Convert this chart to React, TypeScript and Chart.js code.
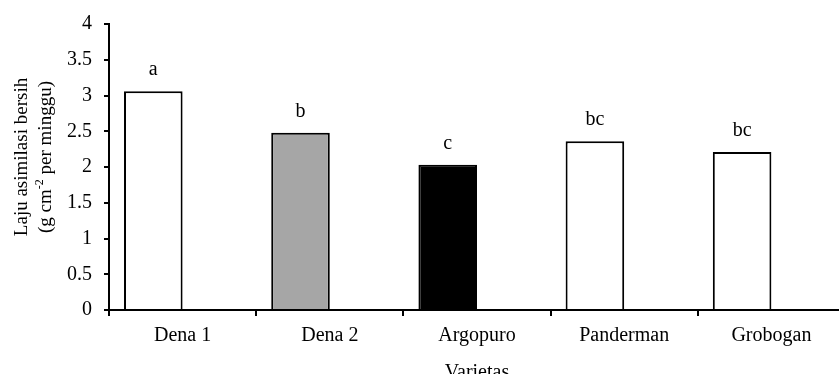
import React, { useEffect, useRef } from "react";
import { Chart, registerables } from "chart.js";

Chart.register(...registerables);

const categories = ["Dena 1", "Dena 2", "Argopuro", "Panderman", "Grobogan"];
const values = [3.06, 2.48, 2.03, 2.36, 2.21];
const spacer = [null, null, null, null, null];
const letters = ["a", "b", "c", "bc", "bc"];
const fills = ["#ffffff", "#a6a6a6", "#000000", "#ffffff", "#ffffff"];
const yMin = 0;
const yMax = 4;
const yStep = 0.5;
const yTitleLine1 = "Laju asimilasi bersih";
const yTitleLine2 = ["(g cm", "-2", " per minggu)"];
const xTitle = "Varietas";

const FONT = "'Liberation Serif', 'Times New Roman', Times, serif";
const W = 846;
const H = 390;

const annotPlugin = {
  id: "annot",
  afterDatasetsDraw(chart: any) {
    const ctx = chart.ctx;
    const meta = chart.getDatasetMeta(0);
    ctx.save();
    ctx.font = `20px ${FONT}`;
    ctx.fillStyle = "#000";
    ctx.textAlign = "center";
    ctx.textBaseline = "alphabetic";
    meta.data.forEach((el: any, i: number) => {
      ctx.fillText(letters[i], el.x, el.y - 16);
    });
    ctx.restore();
  },
  afterDraw(chart: any) {
    const ctx = chart.ctx;
    const area = chart.chartArea;
    const cy = area.top + (area.bottom - area.top) * 0.465;
    ctx.save();
    ctx.fillStyle = "#000";
    ctx.textBaseline = "middle";
    ctx.save();
    ctx.translate(22, cy);
    ctx.rotate(-Math.PI / 2);
    ctx.font = `19px ${FONT}`;
    ctx.textAlign = "center";
    ctx.fillText(yTitleLine1, 0, 0);
    ctx.restore();
    ctx.save();
    ctx.translate(46, cy);
    ctx.rotate(-Math.PI / 2);
    const mainFont = `19px ${FONT}`;
    const supFont = `12px ${FONT}`;
    ctx.font = mainFont;
    const w0 = ctx.measureText(yTitleLine2[0]).width;
    const w2 = ctx.measureText(yTitleLine2[2]).width;
    ctx.font = supFont;
    const w1 = ctx.measureText(yTitleLine2[1]).width;
    const total = w0 + w1 + w2;
    let x = -total / 2;
    ctx.textAlign = "left";
    ctx.font = mainFont;
    ctx.fillText(yTitleLine2[0], x, 0);
    x += w0;
    ctx.font = supFont;
    ctx.fillText(yTitleLine2[1], x, -6);
    x += w1;
    ctx.font = mainFont;
    ctx.fillText(yTitleLine2[2], x, 0);
    ctx.restore();
    ctx.restore();
  },
};

export default function App() {
  const ref = useRef<HTMLCanvasElement | null>(null);

  useEffect(() => {
    document.body.style.margin = "0";
    const canvas = ref.current;
    if (!canvas) return;
    const chart = new Chart(canvas, {
      type: "bar",
      data: {
        labels: categories,
        datasets: [
          {
            data: values,
            backgroundColor: fills,
            borderColor: "#000000",
            borderWidth: 2,
          },
          {
            data: spacer as any,
            backgroundColor: "#ffffff",
          },
        ],
      },
      options: {
        responsive: false,
        animation: false,
        devicePixelRatio: 1,
        layout: { padding: { left: 0, top: 22, right: 1, bottom: 0 } },
        datasets: {
          bar: { categoryPercentage: 0.796, barPercentage: 1 },
        } as any,
        plugins: {
          legend: { display: false },
          tooltip: { enabled: false },
          title: { display: false },
        },
        scales: {
          x: {
            type: "category",
            offset: true,
            grid: {
              offset: true,
              drawOnChartArea: false,
              drawTicks: true,
              tickLength: 6,
              color: "#000000",
              lineWidth: 2,
            },
            border: { color: "#000000", width: 2 },
            ticks: {
              color: "#000000",
              font: { family: FONT, size: 20 },
              padding: 8,
              maxRotation: 0,
              autoSkip: false,
            },
            title: {
              display: true,
              text: xTitle,
              color: "#000000",
              font: { family: FONT, size: 20 },
              padding: { top: 0, bottom: 5 },
            },
            afterFit: (s: any) => {
              s.height = H - 310;
            },
          },
          y: {
            min: yMin,
            max: yMax,
            ticks: {
              stepSize: yStep,
              color: "#000000",
              font: { family: FONT, size: 20 },
              padding: 12,
              callback: (v: any) => String(Number(v)),
            },
            grid: {
              drawOnChartArea: false,
              drawTicks: true,
              tickLength: 5,
              color: "#000000",
              lineWidth: 2,
            },
            border: { color: "#000000", width: 2 },
            afterFit: (s: any) => {
              s.width = 109;
            },
          },
        },
      },
      plugins: [annotPlugin],
    });
    return () => chart.destroy();
  }, []);

  return (
    <div style={{ width: 839, height: 374, overflow: "hidden", position: "relative", background: "#fff" }}>
      <canvas ref={ref} width={W} height={H} style={{ width: W, height: H, display: "block" }} />
    </div>
  );
}
